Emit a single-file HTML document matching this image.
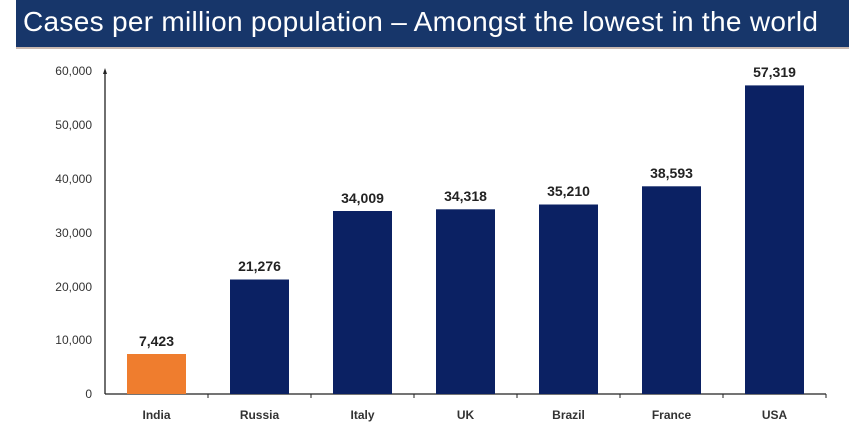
<!DOCTYPE html>
<html><head><style>
body{margin:0;width:849px;height:440px;background:#fff;overflow:hidden;font-family:"Liberation Sans",sans-serif}
.t{position:absolute;left:16px;top:0;width:833px;height:47px;background:#17366a;border-bottom:2px solid #c9b8b0}
.t span{position:absolute;left:7px;top:6px;color:#fff;font-size:28px;letter-spacing:0.3px;white-space:nowrap}
</style></head><body>
<div class="t"><span>Cases per million population – Amongst the lowest in the world</span></div>
<svg width="849" height="440" style="position:absolute;left:0;top:0">
<g font-size="12" fill="#333" text-anchor="end">
<text x="92" y="75">60,000</text><text x="92" y="129">50,000</text><text x="92" y="183">40,000</text>
<text x="92" y="237">30,000</text><text x="92" y="291">20,000</text><text x="92" y="344">10,000</text><text x="92" y="398">0</text>
</g>
<line x1="105" y1="72" x2="105" y2="394" stroke="#222" stroke-width="1.3"/>
<polygon points="105,68 103,74 107,74" fill="#222"/>
<line x1="105" y1="394" x2="826" y2="394" stroke="#222" stroke-width="1.3"/>
<g stroke="#222"><line x1="208" y1="394" x2="208" y2="398"/><line x1="311" y1="394" x2="311" y2="398"/><line x1="414" y1="394" x2="414" y2="398"/><line x1="517" y1="394" x2="517" y2="398"/><line x1="620" y1="394" x2="620" y2="398"/><line x1="723" y1="394" x2="723" y2="398"/><line x1="826" y1="394" x2="826" y2="398"/></g>
<rect x="127" y="354" width="59" height="40" fill="#ef7d2e"/>
<g fill="#0b2163">
<rect x="230" y="279.5" width="59" height="114.5"/>
<rect x="333" y="211" width="59" height="183"/>
<rect x="436" y="209.3" width="59" height="184.7"/>
<rect x="539" y="204.5" width="59" height="189.5"/>
<rect x="642" y="186.3" width="59" height="207.7"/>
<rect x="745" y="85.4" width="59" height="308.6"/>
</g>
<g font-size="14" font-weight="bold" fill="#222" text-anchor="middle">
<text x="156.5" y="346">7,423</text><text x="259.5" y="271">21,276</text><text x="362.5" y="203">34,009</text>
<text x="465.5" y="201">34,318</text><text x="568.5" y="196">35,210</text><text x="671.5" y="178">38,593</text><text x="774.5" y="77">57,319</text>
</g>
<g font-size="12" font-weight="bold" fill="#333" text-anchor="middle">
<text x="156.5" y="419">India</text><text x="259.5" y="419">Russia</text><text x="362.5" y="419">Italy</text>
<text x="465.5" y="419">UK</text><text x="568.5" y="419">Brazil</text><text x="671.5" y="419">France</text><text x="774.5" y="419">USA</text>
</g>
</svg>
</body></html>
